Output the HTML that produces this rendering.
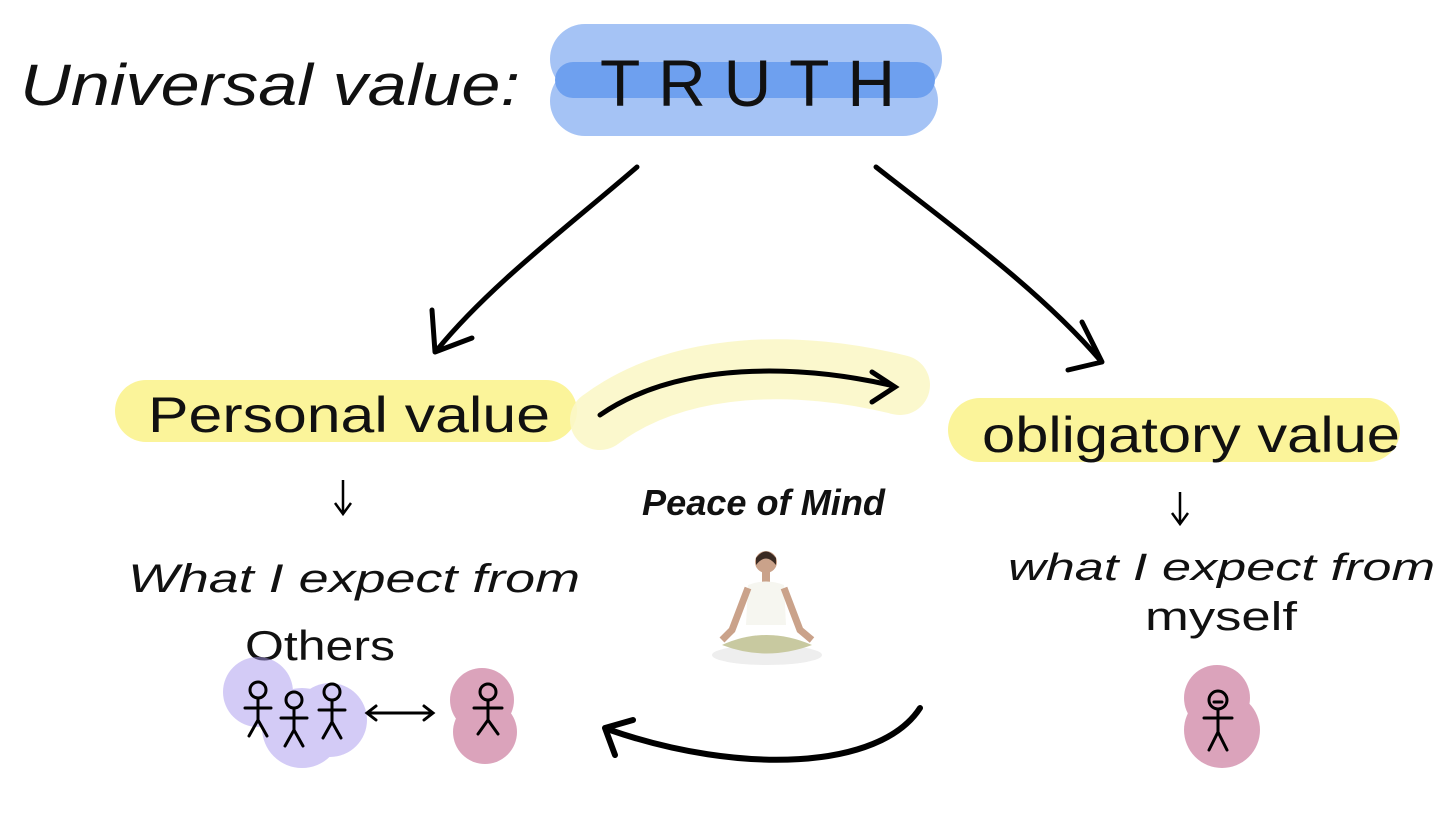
<!DOCTYPE html>
<html><head><meta charset="utf-8"><style>
html,body{margin:0;padding:0;background:#fff;}
svg{display:block;}
text{font-family:"Liberation Sans",sans-serif;fill:#111;}
</style></head><body>
<svg width="1456" height="814" viewBox="0 0 1456 814" xmlns="http://www.w3.org/2000/svg">
<rect width="1456" height="814" fill="#fff"/>
<rect x="550" y="24" width="392" height="70" rx="35" fill="#a5c3f5"/>
<rect x="550" y="66" width="388" height="70" rx="35" fill="#a5c3f5"/>
<rect x="555" y="62" width="380" height="36" rx="18" fill="#6ea0ef"/>
<text x="20" y="105" font-size="58" font-style="italic" textLength="500" lengthAdjust="spacingAndGlyphs">Universal value:</text>
<text x="600" y="106" font-size="66" textLength="295" lengthAdjust="spacing">TRUTH</text>
<g fill="none" stroke="#000" stroke-width="5" stroke-linecap="round" stroke-linejoin="round">
<path d="M637 167 C570 225 490 285 437 350"/>
<path d="M432 310 L435 352 L472 338"/>
<path d="M876 167 C950 225 1040 290 1100 360"/>
<path d="M1082 322 L1102 362 L1068 370"/>
</g>
<rect x="115" y="380" width="462" height="62" rx="31" fill="#fbf49a"/>
<rect x="948" y="398" width="452" height="64" rx="32" fill="#fbf49a"/>
<path d="M600 420 C680 360 800 360 900 385" stroke="#fbf7c8" stroke-width="60" fill="none" stroke-linecap="round" opacity="0.9"/>
<path d="M600 415 C680 360 800 365 890 385" stroke="#000" stroke-width="5" fill="none" stroke-linecap="round"/>
<path d="M872 372 L895 387 L872 402" stroke="#000" stroke-width="5" fill="none" stroke-linecap="round"/>
<text x="148" y="432" font-size="50" textLength="402" lengthAdjust="spacingAndGlyphs">Personal value</text>
<text x="982" y="452" font-size="50" textLength="418" lengthAdjust="spacingAndGlyphs">obligatory value</text>
<g stroke="#000" stroke-width="2.5" fill="none">
<path d="M343 480 L343 512 M335 503 L343 514 L351 503"/>
<path d="M1180 492 L1180 522 M1172 513 L1180 524 L1188 513"/>
</g>
<text x="128" y="592" font-size="40" font-style="italic" textLength="452" lengthAdjust="spacingAndGlyphs">What I expect from</text>
<text x="245" y="660" font-size="42" textLength="150" lengthAdjust="spacingAndGlyphs">Others</text>
<text x="1008" y="580" font-size="38" font-style="italic" textLength="427" lengthAdjust="spacingAndGlyphs">what I expect from</text>
<text x="1145" y="630" font-size="40" textLength="152" lengthAdjust="spacingAndGlyphs">myself</text>
<text x="642" y="515" font-size="36" font-weight="bold" font-style="italic" textLength="243" lengthAdjust="spacingAndGlyphs">Peace of Mind</text>
<g>
<ellipse cx="767" cy="655" rx="55" ry="10" fill="#eee"/>
<circle cx="766" cy="562" r="11" fill="#caa28a"/>
<path d="M756 558 Q766 545 776 558 L776 565 Q766 552 756 565Z" fill="#3a2a22"/>
<rect x="762" y="572" width="8" height="10" fill="#caa28a"/>
<path d="M748 585 Q766 578 784 585 L786 625 L746 625Z" fill="#f6f6f0"/>
<path d="M748 588 L732 630 L722 640" stroke="#caa28a" stroke-width="7" fill="none"/>
<path d="M784 588 L800 630 L812 640" stroke="#caa28a" stroke-width="7" fill="none"/>
<path d="M722 645 Q766 625 812 645 Q766 662 722 645Z" fill="#c8c9a0"/>
</g>
<g opacity="0.5">
<circle cx="258" cy="692" r="35" fill="#a898ee"/>
<circle cx="302" cy="728" r="40" fill="#a898ee"/>
<circle cx="330" cy="720" r="37" fill="#a898ee"/>
<circle cx="482" cy="700" r="32" fill="#b84a7a"/>
<circle cx="485" cy="732" r="32" fill="#b84a7a"/>
<circle cx="1217" cy="698" r="33" fill="#b84a7a"/>
<circle cx="1222" cy="730" r="38" fill="#b84a7a"/>
</g>
<g stroke="#000" stroke-width="3" fill="none" stroke-linecap="round">
<g transform="translate(258,690)"><circle cx="0" cy="0" r="8"/><path d="M0 8 L0 30 M-13 18 L13 18 M0 30 L-9 46 M0 30 L9 46"/></g>
<g transform="translate(294,700)"><circle cx="0" cy="0" r="8"/><path d="M0 8 L0 30 M-13 18 L13 18 M0 30 L-9 46 M0 30 L9 46"/></g>
<g transform="translate(332,692)"><circle cx="0" cy="0" r="8"/><path d="M0 8 L0 30 M-13 18 L13 18 M0 30 L-9 46 M0 30 L9 46"/></g>
<g transform="translate(488,692)"><circle cx="0" cy="0" r="8"/><path d="M0 8 L0 28 M-14 16 L14 16 M0 28 L-10 42 M0 28 L10 42"/></g>
<g transform="translate(1218,700)"><circle cx="0" cy="0" r="9"/><path d="M-4 2 L4 2 M0 9 L0 32 M-14 18 L14 18 M0 32 L-9 50 M0 32 L9 50"/></g>
<path d="M368 713 L432 713 M376 706 L367 713 L376 720 M424 706 L433 713 L424 720"/>
</g>
<g stroke="#000" stroke-width="6" fill="none" stroke-linecap="round" stroke-linejoin="round">
<path d="M920 708 C880 770 740 775 610 730"/>
<path d="M615 755 L605 728 L633 720"/>
</g>
</svg>
</body></html>
